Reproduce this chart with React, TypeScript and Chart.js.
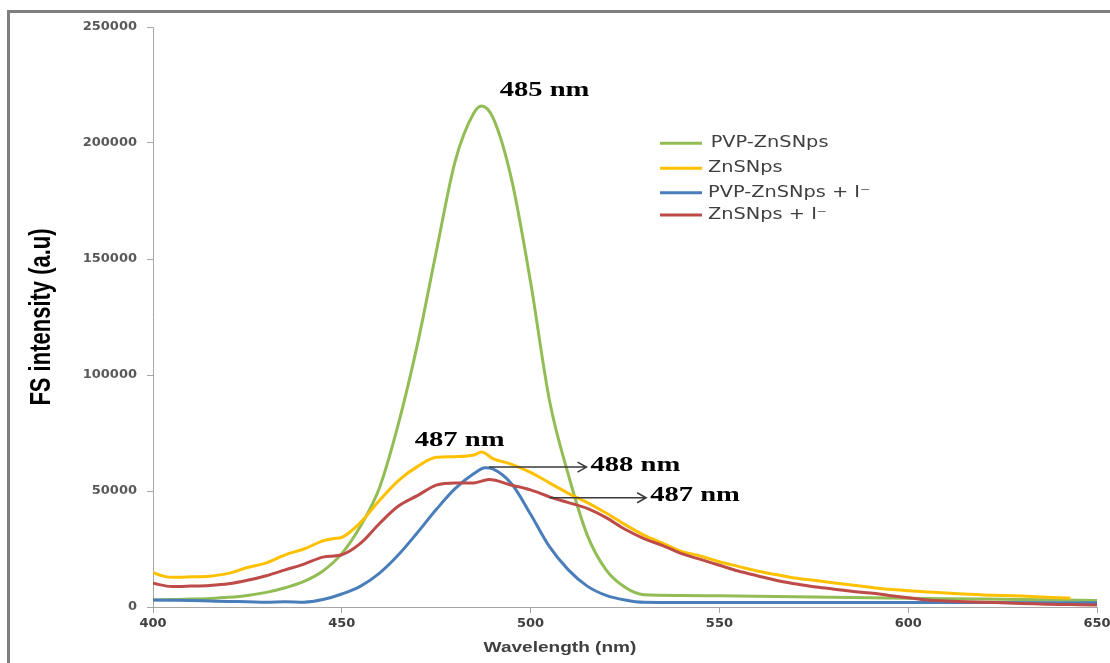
import React, { useEffect, useRef } from "react";
import { Chart, registerables } from "chart.js";

Chart.register(...registerables);

// ---------- DATA ----------
const seriesNames = ["PVP-ZnSNps", "ZnSNps", "PVP-ZnSNps + I⁻", "ZnSNps + I⁻"];
const seriesColors = ["#92BD55", "#FFC000", "#4A7EBB", "#BE4B48"];

const greenNm = [400, 405, 410, 415, 420, 425, 430, 435, 440, 445, 450, 455, 460, 465, 470, 475, 480, 485, 487, 490, 495, 500, 505, 510, 515, 520, 525, 530, 540, 550, 560, 570, 580, 590, 600, 610, 620, 630, 640, 650];
const greenI = [3000, 3200, 3400, 3700, 4200, 5000, 6300, 8300, 11000, 15500, 23000, 35000, 51500, 79000, 113000, 153000, 192000, 213000, 216000, 211000, 184000, 140000, 89000, 57000, 31000, 16000, 8500, 5300, 5000, 4800, 4600, 4400, 4200, 4000, 3800, 3600, 3400, 3200, 3000, 2800];

const yellowNm = [400, 403, 405, 410, 415, 420, 425, 430, 435, 440, 445, 448, 450, 455, 460, 465, 470, 475, 480, 485, 487, 490, 495, 500, 505, 510, 515, 520, 525, 530, 535, 540, 545, 550, 555, 560, 565, 570, 575, 580, 585, 590, 595, 600, 605, 610, 615, 620, 625, 630, 635, 640, 643];
const yellowI = [14800, 13200, 12800, 13000, 13300, 14500, 17000, 19000, 22500, 25000, 28500, 29500, 30000, 36500, 46000, 54500, 60500, 64500, 64800, 65500, 66800, 64000, 61500, 58000, 53500, 49000, 45000, 40500, 35500, 31000, 27500, 24000, 22000, 19500, 17500, 15500, 14000, 12500, 11500, 10500, 9500, 8500, 7600, 7000, 6500, 6000, 5600, 5200, 5000, 4700, 4300, 4000, 3800];

const blueNm = [400, 405, 410, 415, 420, 425, 430, 435, 440, 445, 450, 455, 460, 465, 470, 475, 480, 485, 488, 490, 495, 500, 505, 510, 515, 520, 525, 530, 540, 560, 580, 600, 620, 650];
const blueI = [3000, 2900, 2800, 2600, 2400, 2300, 2100, 2300, 2100, 3200, 5600, 9000, 14600, 22500, 32000, 42000, 51000, 57500, 60000, 59500, 53000, 40000, 26000, 16000, 9000, 5000, 3000, 2000, 1900, 1900, 1900, 1900, 1900, 1800];

const redNm = [400, 405, 410, 415, 420, 425, 430, 435, 440, 445, 450, 455, 460, 465, 470, 475, 480, 485, 489, 495, 500, 505, 510, 515, 520, 525, 530, 535, 540, 545, 550, 555, 560, 565, 570, 575, 580, 585, 590, 595, 600, 605, 610, 615, 620, 625, 630, 635, 640, 645, 650];
const redI = [10200, 8800, 9000, 9300, 10000, 11500, 13500, 16000, 18500, 21500, 22500, 27500, 36000, 43500, 48000, 52500, 53500, 53500, 55000, 52500, 50500, 47500, 45000, 42500, 38500, 33500, 29500, 26500, 23000, 20500, 18000, 15500, 13500, 11500, 10000, 8700, 7800, 6800, 6000, 5000, 4000, 3000, 2600, 2300, 2100, 1800, 1500, 1300, 1100, 1000, 900];

// peak annotations: [text, nm, intensity] (left edge of text)
const peakLabels: [string, number, number][] = [
  ["485 nm", 491.8, 222800],
  ["487 nm", 469.3, 72000],
];
// arrows: [text, fromNm, toNm, intensity]
const arrowLabels: [string, number, number, number][] = [
  ["488 nm", 489, 514.8, 60300],
  ["487 nm", 505, 530.6, 47100],
];

const xTitle = "Wavelength (nm)";
const yTitle = "FS intensity (a.u)";

function pts(xs: number[], ys: number[]) {
  return xs.map((x, i) => ({ x, y: ys[i] }));
}

function drawStretched(
  ctx: CanvasRenderingContext2D,
  text: string,
  x: number,
  y: number,
  font: string,
  color: string,
  sx: number,
  align: CanvasTextAlign = "left"
) {
  ctx.save();
  ctx.font = font;
  ctx.fillStyle = color;
  ctx.textBaseline = "middle";
  ctx.textAlign = align;
  ctx.translate(x, y);
  ctx.scale(sx, 1);
  ctx.fillText(text, 0, 0);
  ctx.restore();
}

const overlayPlugin = {
  id: "overlay",
  afterDraw(chart: any) {
    const ctx: CanvasRenderingContext2D = chart.ctx;
    const xs = chart.scales.x;
    const ys = chart.scales.y;
    const annFont = "bold 22px 'Liberation Serif', 'Times New Roman', serif";

    peakLabels.forEach(([t, nm, v]) => {
      drawStretched(ctx, t, xs.getPixelForValue(nm), ys.getPixelForValue(v), annFont, "#000", 1.3);
    });

    arrowLabels.forEach(([t, a, b, v]) => {
      const x1 = xs.getPixelForValue(a);
      const x2 = xs.getPixelForValue(b);
      const y = ys.getPixelForValue(v);
      ctx.save();
      ctx.strokeStyle = "#3a3a3a";
      ctx.lineWidth = 1.5;
      ctx.beginPath();
      ctx.moveTo(x1, y);
      ctx.lineTo(x2, y);
      ctx.moveTo(x2 - 9, y - 5);
      ctx.lineTo(x2, y);
      ctx.lineTo(x2 - 9, y + 5);
      ctx.stroke();
      ctx.restore();
      drawStretched(ctx, t, x2 + 4, y - 2, annFont, "#000", 1.3);
    });

    // legend
    const legY = [130.3, 155.3, 179.7, 202];
    const legTextX = [700.7, 698, 698, 698];
    seriesNames.forEach((name, i) => {
      ctx.save();
      ctx.strokeStyle = seriesColors[i];
      ctx.lineWidth = 3;
      ctx.beginPath();
      ctx.moveTo(650, legY[i]);
      ctx.lineTo(692, legY[i]);
      ctx.stroke();
      ctx.restore();
      drawStretched(ctx, name, legTextX[i], legY[i], "15px 'DejaVu Sans', sans-serif", "#404040", 1.29);
    });

    // x title
    drawStretched(ctx, xTitle, 550, 635, "bold 15px 'Liberation Sans', Arial, sans-serif", "#404040", 1.27, "center");

    // y title (rotated)
    ctx.save();
    ctx.translate(32, 304);
    ctx.rotate(-Math.PI / 2);
    ctx.scale(1, 1.3);
    ctx.font = "bold 22px 'Liberation Sans', Arial, sans-serif";
    ctx.fillStyle = "#000";
    ctx.textAlign = "center";
    ctx.textBaseline = "middle";
    ctx.fillText(yTitle, 0, 0);
    ctx.restore();
  },
};

export default function App() {
  const ref = useRef<HTMLCanvasElement | null>(null);

  useEffect(() => {
    if (!ref.current) return;
    const allX = [greenNm, yellowNm, blueNm, redNm];
    const allY = [greenI, yellowI, blueI, redI];
    const orders = [3, 2, 1, 0];
    const tickFont = { family: "'DejaVu Sans', sans-serif", size: 13, weight: "bold" };
    const chart = new Chart(ref.current, {
      type: "line",
      data: {
        datasets: seriesNames.map((name, i) => ({
          label: name,
          data: pts(allX[i], allY[i]),
          borderColor: seriesColors[i],
          backgroundColor: seriesColors[i],
          borderWidth: 3,
          pointRadius: 0,
          fill: false,
          cubicInterpolationMode: "monotone" as const,
          order: orders[i],
        })),
      },
      options: {
        animation: false,
        responsive: false,
        devicePixelRatio: 1,
        layout: { padding: { top: 14, right: 13, left: 0, bottom: 0 } },
        plugins: {
          legend: { display: false },
          tooltip: { enabled: false },
          title: { display: false },
        },
        scales: {
          x: {
            type: "linear",
            min: 400,
            max: 650,
            offset: false,
            ticks: {
              stepSize: 50,
              padding: 3,
              color: "#404040",
              font: tickFont,
              maxRotation: 0,
              callback: (v: any) => String(v),
            },
            grid: {
              drawOnChartArea: false,
              drawTicks: true,
              tickLength: 6,
              color: "#a6a6a6",
            },
            border: { color: "#a6a6a6", width: 1 },
            afterFit: (s: any) => {
              s.height = 56;
              s.paddingLeft = 0;
              s.paddingRight = 0;
            },
          },
          y: {
            min: 0,
            max: 250000,
            ticks: {
              stepSize: 50000,
              padding: 10,
              color: "#595959",
              font: tickFont,
              callback: (v: any) => String(v),
            },
            grid: {
              drawOnChartArea: false,
              drawTicks: true,
              tickLength: 6,
              color: "#a6a6a6",
            },
            border: { color: "#a6a6a6", width: 1 },
            afterFit: (s: any) => {
              s.width = 143;
              s.paddingTop = 0;
              s.paddingBottom = 0;
            },
          },
        },
      },
      plugins: [overlayPlugin],
    } as any);
    return () => chart.destroy();
  }, []);

  return (
    <div
      style={{
        position: "absolute",
        left: 7,
        top: 10,
        width: 1103,
        height: 653,
        boxSizing: "border-box",
        borderLeft: "3px solid #7f7f7f",
        borderTop: "3px solid #7f7f7f",
        background: "#fff",
        overflow: "hidden",
      }}
    >
      <canvas ref={ref} width={1100} height={650} style={{ display: "block", width: 1100, height: 650 }} />
    </div>
  );
}
